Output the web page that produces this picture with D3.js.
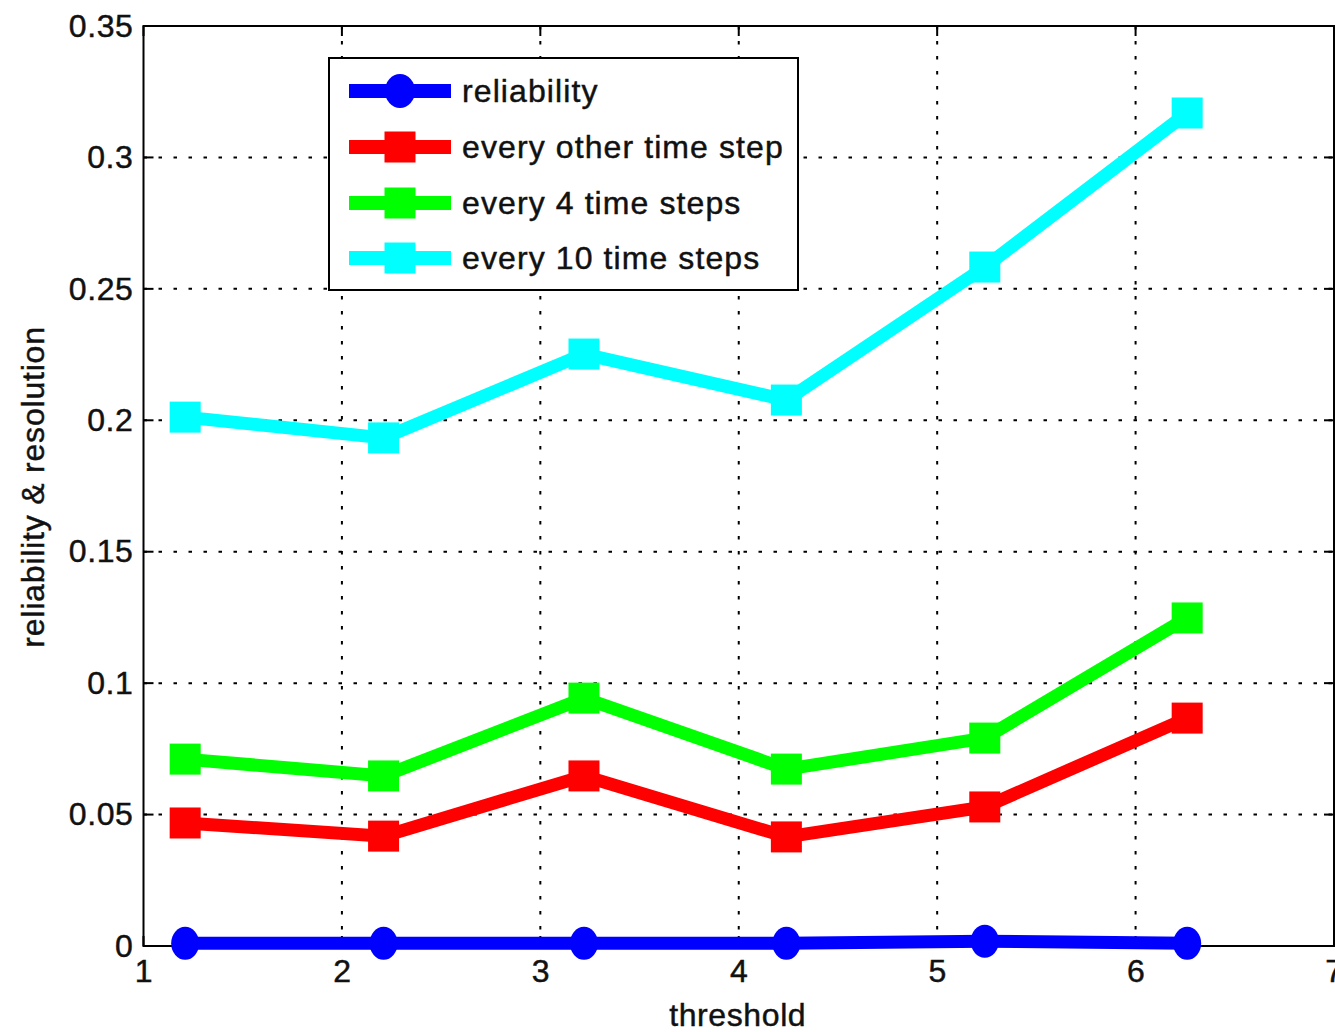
<!DOCTYPE html>
<html>
<head>
<meta charset="utf-8">
<script src="https://cdn.jsdelivr.net/npm/d3@7"></script>
<style>
  html, body { margin: 0; padding: 0; background: #fff; }
  text { font-family: "Liberation Sans", Arial, Helvetica, sans-serif; fill: #111; stroke: #111; stroke-width: 0.45px; }
</style>
</head>
<body>
<svg id="chart" width="1335" height="1032"></svg>
<script>
// ---- data ----
const thresholds = [1.21, 2.21, 3.22, 4.24, 5.24, 6.26];
const reliability = [0.001, 0.001, 0.001, 0.001, 0.0018, 0.001];
const everyOther = [0.0468, 0.0418, 0.0647, 0.0415, 0.0529, 0.0867];
const every4 = [0.0711, 0.0647, 0.0943, 0.0673, 0.0791, 0.1248];
const every10 = [0.2012, 0.1933, 0.2252, 0.2077, 0.2583, 0.3169];
const seriesNames = ["reliability", "every other time step", "every 4 time steps", "every 10 time steps"];
const seriesColors = ["#0000ff", "#ff0000", "#00ff00", "#00ffff"];
const seriesMarkers = ["circle", "square", "square", "square"];
const xTicks = [1, 2, 3, 4, 5, 6, 7];
const yTicks = [0, 0.05, 0.1, 0.15, 0.2, 0.25, 0.3, 0.35];
const yTickLabels = ["0", "0.05", "0.1", "0.15", "0.2", "0.25", "0.3", "0.35"];
const xLabel = "threshold";
const yLabel = "reliability & resolution";

const seriesValues = [reliability, everyOther, every4, every10];

(function () {
const svg = d3.select("#chart");
const pL = 143.5, pR = 1334, pT = 26, pB = 946;
const x = d3.scaleLinear().domain([1, 7]).range([pL, pR]);
const y = d3.scaleLinear().domain([0, 0.35]).range([pB, pT]);

const fontSize = 32, spacing = 0.6;

// grid
const grid = svg.append("g");
grid.selectAll("line.vg").data(xTicks.slice(1, -1)).enter().append("line")
  .attr("x1", d => x(d)).attr("x2", d => x(d)).attr("y1", pT).attr("y2", pB)
  .attr("stroke", "#000").attr("stroke-width", 2).attr("stroke-dasharray", "3.5,11.5");
grid.selectAll("line.hg").data(yTicks.slice(1, -1)).enter().append("line")
  .attr("y1", d => y(d)).attr("y2", d => y(d)).attr("x1", pL).attr("x2", pR)
  .attr("stroke", "#000").attr("stroke-width", 2).attr("stroke-dasharray", "3.5,11.5");

// axes labels
const axB = d3.axisBottom(x).tickValues(xTicks).tickSize(0).tickPadding(12).tickFormat(d3.format("d"));
const axL = d3.axisLeft(y).tickValues(yTicks).tickSize(0).tickPadding(10).tickFormat((d, i) => yTickLabels[i]);
const gB = svg.append("g").attr("transform", `translate(0,${pB})`).call(axB);
const gL = svg.append("g").attr("transform", `translate(${pL},0)`).call(axL);
[gB, gL].forEach(g => {
  g.select(".domain").remove();
  g.selectAll("text").attr("font-size", fontSize).attr("letter-spacing", spacing)
    .style("font-family", "'Liberation Sans', Arial, sans-serif").attr("fill", "#111");
});
gB.selectAll("text").attr("dy", "0.75em");

// frame
svg.append("rect").attr("x", pL).attr("y", pT).attr("width", pR - pL).attr("height", pB - pT)
  .attr("fill", "none").attr("stroke", "#000").attr("stroke-width", 2);
// inner ticks
const tick = 10;
const tg = svg.append("g").attr("stroke", "#000").attr("stroke-width", 2);
xTicks.forEach(d => {
  tg.append("line").attr("x1", x(d)).attr("x2", x(d)).attr("y1", pB).attr("y2", pB - tick);
  tg.append("line").attr("x1", x(d)).attr("x2", x(d)).attr("y1", pT).attr("y2", pT + tick);
});
yTicks.forEach(d => {
  tg.append("line").attr("y1", y(d)).attr("y2", y(d)).attr("x1", pL).attr("x2", pL + tick);
  tg.append("line").attr("y1", y(d)).attr("y2", y(d)).attr("x1", pR).attr("x2", pR - tick);
});

// series
const line = d3.line().x(d => x(d[0])).y(d => y(d[1]));
const sq = 31;
seriesValues.forEach((vals, si) => {
  const pts = thresholds.map((t, i) => [t, vals[i]]);
  const g = svg.append("g");
  g.append("path").datum(pts).attr("d", line).attr("fill", "none")
    .attr("stroke", seriesColors[si]).attr("stroke-width", 13).attr("stroke-linejoin", "miter");
  if (seriesMarkers[si] === "circle") {
    g.selectAll("ellipse").data(pts).enter().append("ellipse")
      .attr("cx", d => x(d[0])).attr("cy", d => y(d[1])).attr("rx", 14).attr("ry", 16.5)
      .attr("fill", seriesColors[si]);
  } else {
    g.selectAll("rect").data(pts).enter().append("rect")
      .attr("x", d => x(d[0]) - sq / 2).attr("y", d => y(d[1]) - sq / 2)
      .attr("width", sq).attr("height", sq).attr("fill", seriesColors[si]);
  }
});

// axis titles
svg.append("text").attr("x", (pL + pR) / 2 - 1).attr("y", 1026).attr("text-anchor", "middle")
  .attr("font-size", fontSize).attr("letter-spacing", spacing).text(xLabel);
svg.append("text").attr("transform", "translate(44,487) rotate(-90)").attr("text-anchor", "middle")
  .attr("font-size", fontSize).attr("letter-spacing", spacing + 0.2).text(yLabel);

// legend
const lg = svg.append("g");
lg.append("rect").attr("x", 329).attr("y", 58).attr("width", 469).attr("height", 232)
  .attr("fill", "#fff").attr("stroke", "#000").attr("stroke-width", 2);
const rowY = [91, 147, 203, 258];
seriesNames.forEach((name, i) => {
  const cy = rowY[i];
  lg.append("line").attr("x1", 349).attr("x2", 451).attr("y1", cy).attr("y2", cy)
    .attr("stroke", seriesColors[i]).attr("stroke-width", 14);
  if (seriesMarkers[i] === "circle") {
    lg.append("ellipse").attr("cx", 400).attr("cy", cy).attr("rx", 15).attr("ry", 17).attr("fill", seriesColors[i]);
  } else {
    lg.append("rect").attr("x", 400 - sq / 2).attr("y", cy - sq / 2).attr("width", sq).attr("height", sq)
      .attr("fill", seriesColors[i]);
  }
  lg.append("text").attr("x", 462).attr("y", cy).attr("dy", "0.35em")
    .attr("font-size", fontSize).attr("letter-spacing", 1.1).text(name);
});
})();
</script>
</body>
</html>
